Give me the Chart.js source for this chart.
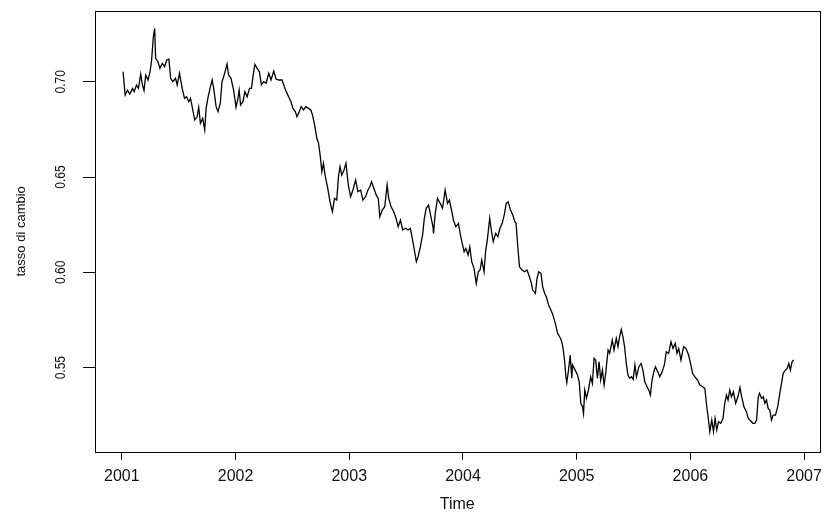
<!DOCTYPE html>
<html>
<head>
<meta charset="utf-8">
<script src="https://cdn.jsdelivr.net/npm/chart.js@4.4.0/dist/chart.umd.min.js"></script>
<style>
  html, body { margin: 0; padding: 0; background: #fff; }
</style>
</head>
<body>
<canvas id="chart" width="829" height="516"></canvas>
<script>
// time in decimal years
const years = [
  2001.011, 2001.029, 2001.050, 2001.070, 2001.094, 2001.108, 2001.129, 2001.146, 2001.166, 2001.181,
  2001.195, 2001.210, 2001.230, 2001.248, 2001.262, 2001.277, 2001.289, 2001.297, 2001.318, 2001.335,
  2001.356, 2001.376, 2001.394, 2001.414, 2001.429, 2001.449, 2001.472, 2001.487, 2001.507, 2001.531,
  2001.551, 2001.569, 2001.589, 2001.604, 2001.624, 2001.641, 2001.662, 2001.676, 2001.691, 2001.711,
  2001.729, 2001.741, 2001.759, 2001.779, 2001.794, 2001.808, 2001.829, 2001.846, 2001.866, 2001.881,
  2001.904, 2001.925, 2001.939, 2001.960, 2001.983, 2002.004, 2002.021, 2002.032,
  2002.044, 2002.065, 2002.082, 2002.102, 2002.123, 2002.140, 2002.155, 2002.170, 2002.190, 2002.210,
  2002.227, 2002.248, 2002.269, 2002.292, 2002.312, 2002.336, 2002.356, 2002.380, 2002.409, 2002.429,
  2002.446, 2002.467, 2002.487, 2002.505, 2002.525, 2002.540, 2002.560, 2002.577, 2002.598, 2002.619,
  2002.642, 2002.662, 2002.677, 2002.695, 2002.715, 2002.730, 2002.744, 2002.759, 2002.773, 2002.787,
  2002.811, 2002.831, 2002.852, 2002.870, 2002.890, 2002.905, 2002.919, 2002.934, 2002.954, 2002.971,
  2002.992, 2003.012, 2003.032, 2003.056, 2003.076, 2003.100, 2003.120, 2003.144, 2003.164, 2003.181,
  2003.196, 2003.216, 2003.237, 2003.255, 2003.269, 2003.290, 2003.312, 2003.333, 2003.347, 2003.368,
  2003.391, 2003.412, 2003.430, 2003.450, 2003.470, 2003.493, 2003.517, 2003.537, 2003.557, 2003.575,
  2003.590, 2003.605, 2003.625, 2003.645, 2003.660, 2003.677, 2003.697, 2003.718, 2003.736, 2003.741,
  2003.756, 2003.776, 2003.800, 2003.820, 2003.843, 2003.864, 2003.881, 2003.902, 2003.916, 2003.937,
  2003.960, 2003.975,
  2003.990, 2004.010, 2004.025, 2004.045, 2004.060, 2004.077, 2004.097, 2004.117, 2004.135, 2004.150,
  2004.165, 2004.185, 2004.200, 2004.214, 2004.235, 2004.249, 2004.266, 2004.287, 2004.307, 2004.325,
  2004.345, 2004.366, 2004.380, 2004.397, 2004.418, 2004.438, 2004.456, 2004.467, 2004.482, 2004.497,
  2004.520, 2004.541, 2004.563, 2004.584, 2004.602, 2004.613, 2004.637, 2004.651, 2004.666, 2004.686,
  2004.701, 2004.718, 2004.733, 2004.753, 2004.773, 2004.791, 2004.812, 2004.832, 2004.850, 2004.864,
  2004.878, 2004.893, 2004.905, 2004.913, 2004.928, 2004.943, 2004.957,
  2004.963, 2004.987, 2005.007, 2005.022, 2005.036, 2005.051, 2005.060, 2005.071, 2005.086, 2005.103,
  2005.123, 2005.138, 2005.153, 2005.167, 2005.182, 2005.197, 2005.211, 2005.226, 2005.241, 2005.255,
  2005.276, 2005.290, 2005.313, 2005.328, 2005.348, 2005.363, 2005.377, 2005.392, 2005.407, 2005.421,
  2005.436, 2005.451, 2005.465, 2005.482, 2005.497, 2005.512, 2005.526, 2005.547, 2005.567, 2005.582,
  2005.599, 2005.619, 2005.634, 2005.648, 2005.663, 2005.678, 2005.692, 2005.713, 2005.731, 2005.751,
  2005.771, 2005.788, 2005.809, 2005.829, 2005.847, 2005.867, 2005.882, 2005.897, 2005.917, 2005.940,
  2005.961, 2005.984, 2006.004, 2006.019, 2006.039, 2006.063, 2006.083, 2006.107, 2006.127, 2006.144,
  2006.159, 2006.171, 2006.188, 2006.203, 2006.217, 2006.232, 2006.247, 2006.267, 2006.287, 2006.302,
  2006.317, 2006.331, 2006.346, 2006.361, 2006.378, 2006.398, 2006.418, 2006.436, 2006.451, 2006.471,
  2006.492, 2006.509, 2006.529, 2006.550, 2006.567, 2006.582, 2006.597, 2006.608, 2006.626, 2006.641,
  2006.655, 2006.669, 2006.684, 2006.698, 2006.713, 2006.728, 2006.748, 2006.768, 2006.786, 2006.801,
  2006.816, 2006.836, 2006.851, 2006.865, 2006.879, 2006.894, 2006.908
];

// tasso di cambio, same order as years
const rates = [
  0.7052, 0.6930, 0.6956, 0.6935, 0.6965, 0.6948, 0.6983, 0.6965, 0.7040, 0.6983,
  0.6953, 0.7035, 0.7009, 0.7052, 0.7114, 0.7236, 0.7280, 0.7123, 0.7105, 0.7070,
  0.7097, 0.7079, 0.7114, 0.7118, 0.7018, 0.7000, 0.7018, 0.6983, 0.7044, 0.6965,
  0.6913, 0.6921, 0.6895, 0.6913, 0.6852, 0.6799, 0.6816, 0.6866, 0.6782, 0.6808,
  0.6747, 0.6860, 0.6921, 0.6974, 0.7009, 0.6965, 0.6869, 0.6843, 0.6887, 0.7000,
  0.7044, 0.7093, 0.7035, 0.7018, 0.6956, 0.6866, 0.6913, 0.6956,
  0.6878, 0.6895, 0.6948, 0.6921, 0.6965, 0.6965, 0.7035, 0.7091, 0.7070, 0.7052,
  0.6983, 0.7000, 0.6992, 0.7044, 0.7009, 0.7056, 0.7014, 0.7009, 0.7009, 0.6974,
  0.6948, 0.6921, 0.6895, 0.6860, 0.6843, 0.6816, 0.6843, 0.6869, 0.6852, 0.6869,
  0.6860, 0.6852, 0.6825, 0.6773, 0.6703, 0.6677, 0.6615, 0.6528, 0.6572, 0.6510,
  0.6441, 0.6370, 0.6318, 0.6388, 0.6379, 0.6502, 0.6554, 0.6510, 0.6537, 0.6572,
  0.6458, 0.6397, 0.6432, 0.6484, 0.6423, 0.6432, 0.6379, 0.6397, 0.6432, 0.6449,
  0.6475, 0.6441, 0.6406, 0.6388, 0.6292, 0.6327, 0.6344, 0.6458, 0.6388, 0.6344,
  0.6318, 0.6283, 0.6239, 0.6274, 0.6222, 0.6231, 0.6222, 0.6231, 0.6169, 0.6108,
  0.6056, 0.6082, 0.6134, 0.6196, 0.6283, 0.6336, 0.6353, 0.6292, 0.6239, 0.6204,
  0.6309, 0.6388, 0.6362, 0.6336, 0.6432, 0.6362, 0.6379, 0.6318, 0.6274, 0.6239,
  0.6257, 0.6204,
  0.6161, 0.6108, 0.6126, 0.6091, 0.6134, 0.6056, 0.6021, 0.5942, 0.6003, 0.6012,
  0.6064, 0.6003, 0.6117, 0.6169, 0.6283, 0.6222, 0.6161, 0.6204, 0.6187, 0.6231,
  0.6257, 0.6309, 0.6362, 0.6370, 0.6327, 0.6301, 0.6266, 0.6257, 0.6134, 0.6029,
  0.6012, 0.6003, 0.6012, 0.5977, 0.5942, 0.5907, 0.5890, 0.5968, 0.6003, 0.5994,
  0.5924, 0.5890, 0.5872, 0.5828, 0.5802, 0.5776, 0.5732, 0.5680, 0.5662, 0.5645,
  0.5610, 0.5540, 0.5452, 0.5421, 0.5487, 0.5566, 0.5444,
  0.5514, 0.5487, 0.5461, 0.5426, 0.5313, 0.5295, 0.5260, 0.5382, 0.5339, 0.5382,
  0.5452, 0.5417, 0.5549, 0.5540, 0.5444, 0.5531, 0.5435, 0.5487, 0.5409, 0.5470,
  0.5592, 0.5575, 0.5645, 0.5592, 0.5654, 0.5610, 0.5662, 0.5701, 0.5662, 0.5610,
  0.5522, 0.5461, 0.5444, 0.5452, 0.5438, 0.5514, 0.5452, 0.5505, 0.5522, 0.5487,
  0.5426, 0.5400, 0.5382, 0.5356, 0.5435, 0.5478, 0.5505, 0.5478, 0.5452, 0.5478,
  0.5514, 0.5583, 0.5575, 0.5636, 0.5601, 0.5627, 0.5575, 0.5601, 0.5540, 0.5610,
  0.5601, 0.5566, 0.5514, 0.5470, 0.5452, 0.5435, 0.5409, 0.5400, 0.5391, 0.5295,
  0.5225, 0.5164, 0.5225, 0.5164, 0.5234, 0.5173, 0.5216, 0.5208, 0.5234, 0.5313,
  0.5356, 0.5330, 0.5382, 0.5347, 0.5373, 0.5313, 0.5347, 0.5396, 0.5347, 0.5295,
  0.5269, 0.5234, 0.5221, 0.5208, 0.5208, 0.5225, 0.5347, 0.5365, 0.5339, 0.5347,
  0.5313, 0.5330, 0.5286, 0.5278, 0.5225, 0.5251, 0.5251, 0.5295, 0.5365, 0.5417,
  0.5470, 0.5487, 0.5496, 0.5522, 0.5487, 0.5531, 0.5540
];

const xTicks = [2001, 2002, 2003, 2004, 2005, 2006, 2007];
const yTicks = [0.55, 0.60, 0.65, 0.70];
const xTitle = 'Time';
const yTitle = 'tasso di cambio';

const FONT = '"Liberation Sans", Arial, sans-serif';

// R style: box round the plot area, y labels parallel to the axis
const rBox = {
    id: 'rBox',
    afterDraw(chart) {
        const { ctx, chartArea: a, scales } = chart;
        ctx.save();
        ctx.strokeStyle = '#000';
        ctx.lineWidth = 1;
        ctx.strokeRect(Math.round(a.left) + 0.5, Math.round(a.top) + 0.5,
            Math.round(a.right - a.left), Math.round(a.bottom - a.top));

        ctx.fillStyle = '#111';
        ctx.font = '12px ' + FONT;
        ctx.textAlign = 'center';
        ctx.textBaseline = 'middle';
        yTicks.forEach(v => {
            const py = scales.y.getPixelForValue(v);
            ctx.save();
            ctx.translate(a.left - 34, py);
            ctx.rotate(-Math.PI / 2);
            ctx.scale(1, 1.2);
            ctx.fillText(v.toFixed(2), 0, 0);
            ctx.restore();
        });
        ctx.restore();
    }
};

new Chart(document.getElementById('chart'), {
    type: 'line',
    data: {
        datasets: [{
            data: years.map((t, i) => ({ x: t, y: rates[i] })),
            borderColor: '#000',
            borderWidth: 1.3,
            pointRadius: 0,
            tension: 0,
            fill: false
        }]
    },
    options: {
        responsive: false,
        animation: false,
        devicePixelRatio: 1,
        layout: { padding: { top: 11, right: 4, left: 0, bottom: 0 } },
        plugins: { legend: { display: false }, tooltip: { enabled: false } },
        scales: {
            x: {
                type: 'linear',
                min: 2000.764,
                max: 2007.136,
                afterBuildTicks: s => { s.ticks = xTicks.map(v => ({ value: v })); },
                afterFit: s => { s.height = 64.3; },
                grid: { drawOnChartArea: false, drawTicks: true, tickLength: 8, color: '#000' },
                border: { display: false },
                ticks: {
                    color: '#111',
                    font: { family: FONT, size: 16 },
                    padding: 7,
                    maxRotation: 0,
                    autoSkip: false,
                    callback: v => String(v)
                },
                title: {
                    display: true,
                    text: xTitle,
                    color: '#111',
                    font: { family: FONT, size: 16 },
                    padding: { top: 0, bottom: 2 }
                }
            },
            y: {
                min: 0.5059,
                max: 0.7371,
                afterBuildTicks: s => { s.ticks = yTicks.map(v => ({ value: v })); },
                afterFit: s => { s.width = 95; },
                grid: { drawOnChartArea: false, drawTicks: true, tickLength: 12, color: '#000' },
                border: { display: false },
                ticks: { display: false },
                title: {
                    display: true,
                    text: yTitle,
                    color: '#111',
                    font: { family: FONT, size: 13 },
                    padding: { top: 14, bottom: 0 }
                }
            }
        }
    },
    plugins: [rBox]
});
</script>
</body>
</html>
